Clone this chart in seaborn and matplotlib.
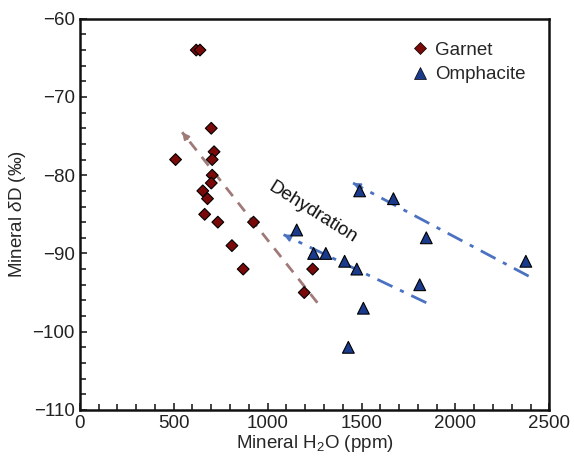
import numpy as np
import pandas as pd
import seaborn as sns
import matplotlib.pyplot as plt
from matplotlib.ticker import MultipleLocator

# Datos
garnet_h2o = [620, 640, 700, 510, 715, 705, 705, 700, 655, 680, 665, 735, 925, 810, 870, 1240, 1195]
garnet_dd = [-64, -64, -74, -78, -77, -78, -80, -81, -82, -83, -85, -86, -86, -89, -92, -92, -95]

omph_h2o = [1155, 1245, 1310, 1410, 1475, 1510, 1430, 1490, 1670, 1845, 1810, 2375]
omph_dd = [-87, -90, -90, -91, -92, -97, -102, -82, -83, -88, -94, -91]

# Flechas de deshidratación: (x inicio, y inicio) -> (x punta, y punta)
arrow_garnet = [(1265, -96.3), (545, -74.5)]
arrow_omph1 = [(1845, -96.3), (1085, -87.6)]
arrow_omph2 = [(2390, -92.9), (1455, -81.0)]

df = pd.DataFrame({
    "h2o": garnet_h2o + omph_h2o,
    "dd": garnet_dd + omph_dd,
    "Mineral": ["Garnet"] * len(garnet_h2o) + ["Omphacite"] * len(omph_h2o),
})

sns.set_theme(style="ticks")
plt.rcParams["font.family"] = ["Liberation Sans", "DejaVu Sans"]
plt.rcParams["mathtext.fontset"] = "custom"
plt.rcParams["mathtext.rm"] = "Liberation Sans"
plt.rcParams["mathtext.it"] = "Liberation Sans:italic"

fs = 13.5

fig = plt.figure(figsize=(5.74, 4.69), dpi=100)
ax = fig.add_axes([0.139, 0.126, 0.818, 0.834])

# Flechas (línea discontinua + punta pequeña)
def flecha(ax, pts, color, ls):
    (x0, y0), (x1, y1) = pts
    ax.plot([x0, x1], [y0, y1], color=color, ls=ls, lw=2, zorder=1)
    dx, dy = x1 - x0, y1 - y0
    ax.annotate("", xy=(x1, y1), xytext=(x1 - dx * 0.04, y1 - dy * 0.04),
                arrowprops=dict(arrowstyle="-|>", color=color, lw=1.5,
                                mutation_scale=10, shrinkA=0, shrinkB=0),
                zorder=1)

flecha(ax, arrow_garnet, "#a07a78", (0, (4, 3)))
flecha(ax, arrow_omph1, "#4a72c0", (0, (6, 3, 1.5, 3)))
flecha(ax, arrow_omph2, "#4a72c0", (0, (6, 3, 1.5, 3)))

sns.scatterplot(data=df, x="h2o", y="dd", hue="Mineral", style="Mineral",
                markers={"Garnet": "D", "Omphacite": "^"},
                palette={"Garnet": "#7a0a0a", "Omphacite": "#1a3a8c"},
                size="Mineral", sizes={"Garnet": 36, "Omphacite": 72},
                edgecolor="black", linewidth=0.8, ax=ax, zorder=3)

ax.text(1240, -84.8, "Dehydration", rotation=-32, ha="center", va="center",
        fontsize=fs, color="#111111")

ax.set_xlim(0, 2500)
ax.set_ylim(-110, -60)
ax.xaxis.set_major_locator(MultipleLocator(500))
ax.xaxis.set_minor_locator(MultipleLocator(100))
ax.yaxis.set_major_locator(MultipleLocator(10))
ax.yaxis.set_minor_locator(MultipleLocator(2))
ax.tick_params(which="both", direction="in", top=False, right=False,
               labelsize=fs, width=1.2, colors="#222222")
ax.tick_params(which="major", length=5)
ax.tick_params(which="minor", length=4)
for s in ax.spines.values():
    s.set_linewidth(1.8)
    s.set_color("#111111")

ax.set_xlabel("Mineral H$_2$O (ppm)", fontsize=fs, labelpad=1)
ax.set_ylabel("Mineral $\\it{\\delta}$D ($\\it{‰}$)", fontsize=fs, labelpad=3)

leg = ax.legend(loc="upper right", frameon=False, fontsize=fs,
                bbox_to_anchor=(0.985, 0.985), handletextpad=0.2,
                labelspacing=0.4, handlelength=1.2)
for h, ms in zip(leg.legend_handles, [6, 8]):
    h.set_markeredgecolor("black")
    h.set_markeredgewidth(0.5)
    h.set_markersize(ms)

plt.savefig("out.png", dpi=100)
